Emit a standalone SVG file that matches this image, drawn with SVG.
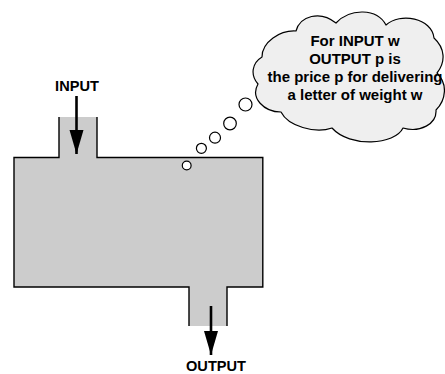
<svg xmlns="http://www.w3.org/2000/svg" width="445" height="374" viewBox="0 0 445 374">
  <style>
    .label { font-family: "Liberation Sans", Arial, sans-serif; font-weight: bold; font-size: 14.6px; fill: #000; text-anchor: middle; }
    .thought { font-size: 15px; }
    .edge { fill: none; stroke: #000; stroke-width: 1.4; stroke-linejoin: miter; }
    .flow { fill: none; stroke: #000; stroke-width: 2.6; }
    .bubble { fill: #fff; stroke: #000; stroke-width: 1.2; }
  </style>
  <defs>
    <marker id="head" markerUnits="userSpaceOnUse" markerWidth="26" markerHeight="15" refX="24" refY="7" orient="auto">
      <path d="M0,0 L24,7 L0,14 Z" fill="#000"/>
    </marker>
  </defs>

  <rect width="445" height="374" fill="#fff"/>

  <!-- the machine: a box with an inlet on top and an outlet underneath -->
  <g id="machine">
    <path d="M59,117 V157.5 H14 V287 H189 V326 H227 V287 H262.8 V157.5 H97 V117 Z" fill="#cccccc"/>
    <path class="edge" d="M59,117 V157.5 H14 V287 H189 V326"/>
    <path class="edge" d="M227,326 V287 H262.8 V157.5 H97 V117"/>
  </g>

  <g id="input-label">
    <text class="label" x="77" y="91">INPUT</text>
  </g>

  <g id="output-label">
    <text class="label" x="216" y="371">OUTPUT</text>
  </g>

  <!-- thought bubbles rising from the machine -->
  <g id="thought-trail">
    <circle class="bubble" cx="186.7" cy="165.5" r="4.4"/>
    <circle class="bubble" cx="201.4" cy="148.3" r="5"/>
    <circle class="bubble" cx="215" cy="137.7" r="5.5"/>
    <circle class="bubble" cx="230" cy="123.5" r="6.3"/>
    <circle class="bubble" cx="245.5" cy="104.5" r="6.5"/>
  </g>

  <g id="thought-cloud">
    <path fill="#efefef" stroke="#000" stroke-width="1.2" stroke-linejoin="round"
      d="M262,57
         C262,42 280,30 296,31
         C300,16 320,10 336,23
         C350,8 377,8 386,25
         C400,12 432,18 434,38
         C445,48 446,62 437,73
         C448,84 446,100 436,110
         C437,124 420,133 403,128
         C395,145 350,148 332,128
         C315,134 288,126 281,112
         C264,112 250,98 258,84
         C250,75 252,63 262,57 Z"/>
    <text class="label thought" x="355" y="46">For INPUT w</text>
    <text class="label thought" x="355" y="64">OUTPUT p is</text>
    <text class="label thought" x="355" y="82">the price p for delivering</text>
    <text class="label thought" x="355" y="99.5">a letter of weight w</text>
  </g>

  <!-- flow arrows in and out -->
  <g id="connectors">
    <line class="flow" x1="76.5" y1="96" x2="76.5" y2="154" marker-end="url(#head)"/>
    <line class="flow" x1="211" y1="306" x2="211" y2="355" marker-end="url(#head)"/>
  </g>
</svg>
